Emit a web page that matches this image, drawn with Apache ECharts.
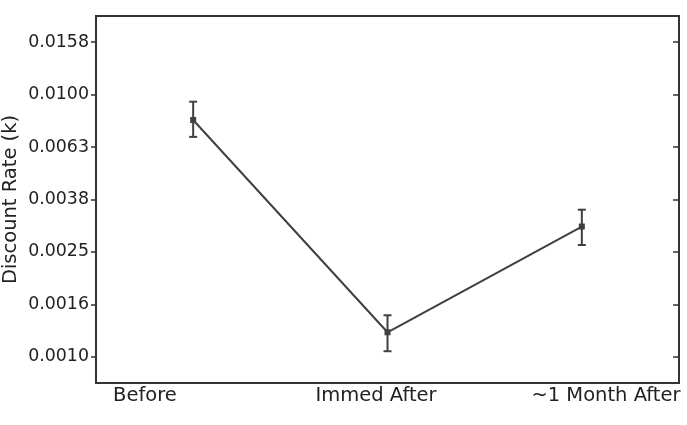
<!DOCTYPE html>
<html>
<head>
<meta charset="utf-8">
<style>
  html, body { margin: 0; padding: 0; background: #fff; }
  #chart { width: 687px; height: 425px; }
</style>
<script src="https://cdn.jsdelivr.net/npm/echarts@6/dist/echarts.min.js"></script>
</head>
<body>
<div id="chart"></div>
<script>
// conditions along the x axis
const categories = ["Before", "Immed After", "~1 Month After"];
const positions = [0, 1, 2];
// where matplotlib put the tick labels (data units)
const labelPositions = [-0.248, 0.941, 2.124];

// discount rate k, mean and error bar ends
const rate = [0.0080, 0.00124, 0.00314];
const upper = [0.0094, 0.00144, 0.00364];
const lower = [0.0069, 0.00105, 0.00267];

// y ticks: log10 positions and their printed labels
const tickLogs = [-3.0, -2.8, -2.6, -2.4, -2.2, -2.0, -1.8];
const tickLabels = ["0.0010", "0.0016", "0.0025", "0.0038", "0.0063", "0.0100", "0.0158"];

const FONT = "DejaVu Sans";
const INK = "#404040";

const chart = echarts.init(document.getElementById("chart"));

const lineData = positions.map((x, i) => [x, Math.log10(rate[i])]);
const errData = positions.map((x, i) => [x, Math.log10(lower[i]), Math.log10(upper[i])]);

const tickLabel = (v) => {
    const i = tickLogs.findIndex((t) => Math.abs(t - v) < 1e-6);
    return i >= 0 ? tickLabels[i] : "";
};
const catLabel = (v) => {
    const i = labelPositions.findIndex((t) => Math.abs(t - v) < 1e-6);
    return i >= 0 ? categories[i] : "";
};

const yBase = {
    type: "value",
    min: -3.1,
    max: -1.7,
    splitLine: { show: false },
    axisLine: { show: false, onZero: false },
};

const option = {
    animation: false,
    grid: {
        left: 96,
        right: 8,
        top: 16,
        bottom: 42,
        containLabel: false,
        outerBoundsMode: "none",
        show: true,
        borderColor: "#333",
        borderWidth: 2,
        backgroundColor: "#fff",
    },
    xAxis: {
        type: "value",
        min: -0.5,
        max: 2.5,
        splitLine: { show: false },
        axisLine: { show: false, onZero: false },
        axisTick: { show: false },
        axisLabel: {
            customValues: labelPositions,
            formatter: catLabel,
            fontFamily: FONT,
            fontSize: 19.5,
            color: "#222",
            margin: 3,
            showMinLabel: true,
            showMaxLabel: true,
        },
    },
    yAxis: [
        {
            ...yBase,
            position: "left",
            name: "Discount Rate (k)",
            nameLocation: "middle",
            nameGap: 75,
            nameMoveOverlap: false,
            nameTextStyle: { fontFamily: FONT, fontSize: 19.5, color: "#222" },
            axisTick: {
                show: true,
                customValues: tickLogs,
                length: 5,
                lineStyle: { color: "#333", width: 1.5 },
            },
            axisLabel: {
                customValues: tickLogs,
                formatter: tickLabel,
                fontFamily: FONT,
                fontSize: 17.4,
                color: "#222",
                margin: 7,
            },
        },
        {
            ...yBase,
            position: "right",
            axisTick: {
                show: true,
                inside: true,
                customValues: tickLogs,
                length: 6,
                lineStyle: { color: "#333", width: 1.5 },
            },
            axisLabel: { show: false },
        },
    ],
    series: [
        {
            type: "line",
            data: lineData,
            symbol: "rect",
            symbolSize: 6,
            lineStyle: { color: INK, width: 2 },
            itemStyle: { color: INK },
            z: 3,
        },
        {
            type: "custom",
            data: errData,
            z: 4,
            renderItem: (params, api) => {
                const x = api.value(0);
                const lo = api.coord([x, api.value(1)]);
                const hi = api.coord([x, api.value(2)]);
                const half = 4;
                const style = { stroke: INK, lineWidth: 2 };
                return {
                    type: "group",
                    children: [
                        { type: "line", shape: { x1: lo[0], y1: lo[1], x2: hi[0], y2: hi[1] }, style },
                        { type: "line", shape: { x1: lo[0] - half, y1: lo[1], x2: lo[0] + half, y2: lo[1] }, style },
                        { type: "line", shape: { x1: hi[0] - half, y1: hi[1], x2: hi[0] + half, y2: hi[1] }, style },
                    ],
                };
            },
        },
    ],
};

chart.setOption(option);
window.addEventListener("resize", () => chart.resize());
</script>
</body>
</html>
